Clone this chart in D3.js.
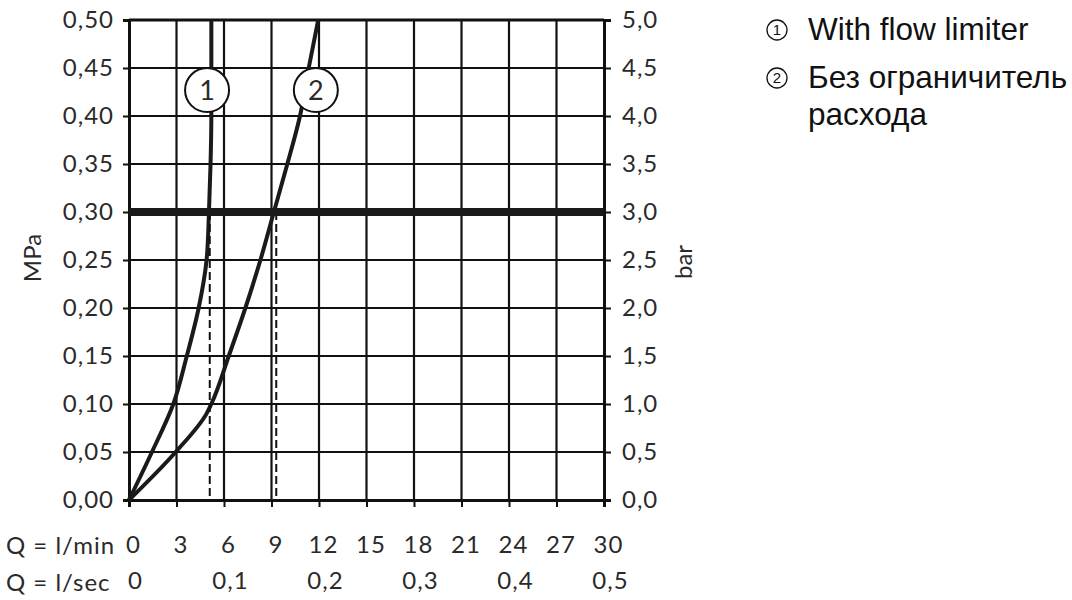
<!DOCTYPE html>
<html><head><meta charset="utf-8">
<script src="https://cdn.jsdelivr.net/npm/d3@7"></script>
<style>
body{margin:0;background:#fff;overflow:hidden}
.ax text{font-family:Lato,"Open Sans",sans-serif;font-weight:400;fill:#2a2a2a;letter-spacing:1px}
.lbl{font-family:Lato,"Open Sans",sans-serif;font-weight:400;fill:#2a2a2a}
.leg{font-family:"Liberation Sans",Arial,sans-serif;fill:#111}
</style>
</head><body><svg id="c" width="1072" height="600"></svg>
<script>
// ---- data ----
const flowTicks = [0,3,6,9,12,15,18,21,24,27,30];          // l/min
const secTicks = [0,0.1,0.2,0.3,0.4,0.5];                  // l/sec
const mpaTicks = [0,0.05,0.10,0.15,0.20,0.25,0.30,0.35,0.40,0.45,0.50];
const barTicks = [0,0.5,1,1.5,2,2.5,3,3.5,4,4.5,5];
const limiterQ = [0,1.45,2.8,3.65,4.4,4.9,5.05,5.15,5.2,5.2];
const limiterP = [0,0.05,0.10,0.15,0.20,0.25,0.30,0.35,0.40,0.50];
const freeQ = [0,2.95,4.9,5.2,6.3,7.35,8.3,9.15,10.0,10.8,11.35,11.95];
const freeP = [0,0.05,0.09,0.10,0.15,0.20,0.25,0.30,0.35,0.40,0.45,0.50];
const refPressure = 0.30;
const operatingQ = [5.1, 9.3];
const markerQ = [4.93, 11.8];
const markerP = [0.427, 0.427];
const markerNames = ["1","2"];
const legendLines = ["With flow limiter","Без ограничитель","расхода"];

// ---- layout ----
const svg = d3.select("#c");
const L=129, R=604, T=20, B=500;
const x = d3.scaleLinear().domain([0,30]).range([L,R]);
const xs = d3.scaleLinear().domain([0,0.5]).range([L,R]);
const y = d3.scaleLinear().domain([0,0.5]).range([B,T]);
const yb = d3.scaleLinear().domain([0,5]).range([B,T]);
const comma = (v,n)=>v.toFixed(n).replace(".",",");

// grid
const g = svg.append("g");
g.selectAll("line.v").data(flowTicks.slice(1,-1)).join("line")
 .attr("x1",d=>x(d)).attr("x2",d=>x(d)).attr("y1",T).attr("y2",B)
 .attr("stroke","#111").attr("stroke-width",2.2);
g.selectAll("line.h").data(mpaTicks.slice(1,-1)).join("line")
 .attr("y1",d=>y(d)).attr("y2",d=>y(d)).attr("x1",L).attr("x2",R)
 .attr("stroke","#111").attr("stroke-width",2.2);
g.append("line").attr("x1",L).attr("x2",R).attr("y1",T).attr("y2",T).attr("stroke","#111").attr("stroke-width",3);

// axes
const fs = 24;
const ax1 = svg.append("g").attr("class","ax").attr("transform",`translate(${L},0)`)
 .call(d3.axisLeft(y).tickValues(mpaTicks).tickSize(6).tickPadding(9).tickFormat(d=>comma(d,2)));
const ax2 = svg.append("g").attr("class","ax").attr("transform",`translate(${R},0)`)
 .call(d3.axisRight(yb).tickValues(barTicks).tickSize(7).tickPadding(11).tickFormat(d=>comma(d,1)));
const ax3 = svg.append("g").attr("class","ax").attr("transform",`translate(0,${B})`)
 .call(d3.axisBottom(x).tickValues(flowTicks).tickSize(7).tickPadding(29).tickFormat(d=>d));
const ax4 = svg.append("g").attr("class","ax").attr("transform",`translate(0,${B})`)
 .call(d3.axisBottom(xs).tickValues(secTicks).tickSize(0).tickPadding(72).tickFormat(d=>d===0?"0":comma(d,1)));
ax4.select(".domain").remove();
[ax1,ax2,ax3,ax4].forEach(a=>{
  a.selectAll("text").style("font-size",fs+"px");
  a.selectAll(".domain").attr("stroke","#111").attr("stroke-width",3);
  a.selectAll(".tick line").attr("stroke","#111").attr("stroke-width",2);
});
ax3.selectAll("text").attr("dx",4);
ax4.selectAll("text").attr("dx",6);

// curves
const line = d3.line().x(d=>x(d[0])).y(d=>y(d[1])).curve(d3.curveMonotoneY);
svg.append("path").datum(limiterQ.map((q,i)=>[q,limiterP[i]])).attr("d",line)
 .attr("fill","none").attr("stroke","#1a1a1a").attr("stroke-width",4).attr("stroke-linejoin","round");
svg.append("path").datum(freeQ.map((q,i)=>[q,freeP[i]])).attr("d",line)
 .attr("fill","none").attr("stroke","#1a1a1a").attr("stroke-width",4).attr("stroke-linejoin","round");

// operating point drop lines
svg.selectAll("line.op").data(operatingQ).join("line")
 .attr("x1",d=>x(d)).attr("x2",d=>x(d)).attr("y1",y(refPressure)).attr("y2",y(0))
 .attr("stroke","#111").attr("stroke-width",2).attr("stroke-dasharray","8,4");

// reference pressure line
svg.append("line").attr("x1",x(0)).attr("x2",x(30)).attr("y1",y(refPressure)).attr("y2",y(refPressure))
 .attr("stroke","#1a1a1a").attr("stroke-width",8);

// markers
const mk = svg.selectAll("g.mk").data(markerNames).join("g")
 .attr("transform",(d,i)=>`translate(${x(markerQ[i])},${y(markerP[i])})`);
mk.append("circle").attr("r",22).attr("fill","#fff").attr("stroke","#111").attr("stroke-width",2);
mk.append("text").attr("class","lbl").attr("text-anchor","middle").attr("dy","0.36em")
 .style("font-size","27px").text(d=>d);

// axis titles
svg.append("text").attr("class","lbl").attr("transform","translate(41,258) rotate(-90)")
 .attr("text-anchor","middle").style("font-size","24px").text("MPa");
svg.append("text").attr("class","lbl").attr("transform","translate(692,262) rotate(-90)")
 .attr("text-anchor","middle").style("font-size","24px").text("bar");
svg.append("text").attr("class","lbl").attr("x",6).attr("y",554).style("font-size",fs+"px").style("letter-spacing","1px").text("Q = l/min");
svg.append("text").attr("class","lbl").attr("x",6).attr("y",591).style("font-size",fs+"px").style("letter-spacing","1px").text("Q = l/sec");

// legend
const legY = [30,78];
const lg = svg.selectAll("g.lg").data(markerNames).join("g")
 .attr("transform",(d,i)=>`translate(777,${legY[i]})`);
lg.append("circle").attr("r",10).attr("fill","none").attr("stroke","#111").attr("stroke-width",1.3);
lg.append("text").attr("class","leg").attr("text-anchor","middle").attr("dy","0.36em").style("font-size","15px").text(d=>d);
svg.append("text").attr("class","leg").attr("x",808).attr("y",40).style("font-size","31.5px").text(legendLines[0]);
svg.append("text").attr("class","leg").attr("x",808).attr("y",88).style("font-size","31.5px").text(legendLines[1]);
svg.append("text").attr("class","leg").attr("x",808).attr("y",125).style("font-size","31.5px").text(legendLines[2]);
</script>
</body></html>
